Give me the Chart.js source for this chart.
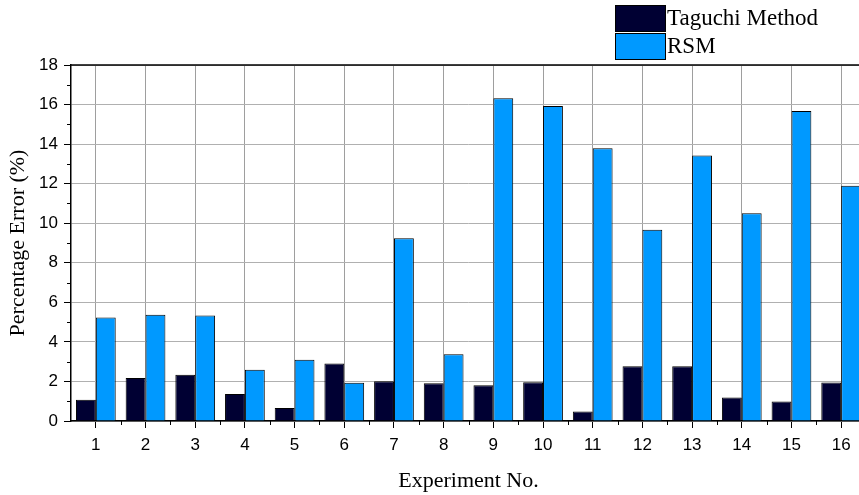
<!DOCTYPE html>
<html>
<head>
<meta charset="utf-8">
<script src="https://cdn.jsdelivr.net/npm/chart.js@4.4.0/dist/chart.umd.min.js"></script>
<style>
  html, body { margin: 0; padding: 0; background: #fff; overflow: hidden; }
  #wrap { width: 859px; height: 495px; overflow: hidden; }
  canvas { display: block; }
</style>
</head>
<body>
<div id="wrap"><canvas id="c" width="868" height="495" style="width:868px;height:495px"></canvas></div>
<script>
// Percentage error of the predicted response per experiment run
const experiments = ['1','2','3','4','5','6','7','8','9','10','11','12','13','14','15','16'];
const taguchiError = [1.08, 2.18, 2.34, 1.37, 0.66, 2.91, 2.01, 1.91, 1.81, 1.96, 0.48, 2.77, 2.77, 1.19, 0.98, 1.95];
const rsmError     = [5.23, 5.37, 5.34, 2.59, 3.10, 1.93, 9.24, 3.37, 16.32, 15.93, 13.79, 9.67, 13.43, 10.50, 15.67, 11.89];
const seriesNames  = ['Taguchi Method', 'RSM'];
const seriesColors = ['#000033', '#0099FF'];
const yTicks = { min: 0, max: 18, step: 2 };

const serif = "'Liberation Serif', 'Times New Roman', serif";
const sans  = "'Liberation Sans', Arial, sans-serif";

// Minor ticks (y at odd values, x between categories) plus the top frame line
const frameAndMinorTicks = {
  id: 'frameAndMinorTicks',
  afterDraw(chart) {
    const { ctx, chartArea: a, scales: { x, y } } = chart;
    ctx.save();
    ctx.strokeStyle = '#000';
    ctx.lineWidth = 1;
    ctx.beginPath();
    for (let v = yTicks.min + yTicks.step / 2; v < yTicks.max; v += yTicks.step) {
      const py = Math.round(y.getPixelForValue(v)) + 0.5;
      ctx.moveTo(a.left - 4, py);
      ctx.lineTo(a.left, py);
    }
    for (let i = 0; i < experiments.length - 1; i++) {
      const px = Math.round((x.getPixelForValue(i) + x.getPixelForValue(i + 1)) / 2) + 0.5;
      ctx.moveTo(px, a.bottom);
      ctx.lineTo(px, a.bottom + 4);
    }
    ctx.stroke();
    ctx.lineWidth = 1.5;
    ctx.beginPath();
    ctx.moveTo(a.left, a.top);
    ctx.lineTo(a.right, a.top);
    ctx.stroke();
    ctx.restore();
  }
};

// Stacked legend in the upper right corner
const boxLegend = {
  id: 'boxLegend',
  afterDraw(chart) {
    const ctx = chart.ctx;
    ctx.save();
    ctx.font = '23px ' + serif;
    ctx.textBaseline = 'middle';
    chart.data.datasets.forEach((ds, i) => {
      const top = 5 + i * 28;
      ctx.fillStyle = ds.backgroundColor;
      ctx.fillRect(615, top, 50, 26);
      ctx.strokeStyle = '#000';
      ctx.lineWidth = 1;
      ctx.strokeRect(615.5, top + 0.5, 50, 26);
      ctx.fillStyle = '#000';
      ctx.fillText(ds.label, 667, top + 14);
    });
    ctx.restore();
  }
};

new Chart(document.getElementById('c'), {
  type: 'bar',
  data: {
    labels: experiments,
    datasets: [
      { label: seriesNames[0], data: taguchiError, backgroundColor: seriesColors[0], borderColor: '#000', borderWidth: 1 },
      { label: seriesNames[1], data: rsmError, backgroundColor: seriesColors[1], borderColor: '#000', borderWidth: 1 }
    ]
  },
  options: {
    responsive: false,
    animation: false,
    devicePixelRatio: 1,
    layout: { padding: { top: 65, right: 2, left: 0, bottom: 0 } },
    plugins: { legend: { display: false }, tooltip: { enabled: false } },
    datasets: { bar: { categoryPercentage: 0.8, barPercentage: 1.0 } },
    scales: {
      x: {
        grid: { offset: false, color: '#9e9e9e', lineWidth: 1, drawTicks: true, tickLength: 7, tickColor: '#000' },
        border: { color: '#000', width: 1.5 },
        ticks: { color: '#000', font: { family: sans, size: 17 }, padding: 7, maxRotation: 0, autoSkip: false },
        title: { display: true, text: 'Experiment No.', color: '#000', font: { family: serif, size: 22 }, padding: { top: 2, bottom: 1 } },
        afterFit(s) { s.height = 74; }
      },
      y: {
        min: yTicks.min, max: yTicks.max,
        grid: { color: '#b0b0b0', lineWidth: 1, drawTicks: true, tickLength: 7, tickColor: '#000' },
        border: { color: '#000', width: 1.5 },
        ticks: { stepSize: yTicks.step, color: '#000', font: { family: sans, size: 17 }, padding: 6 },
        title: { display: true, text: 'Percentage Error (%)', color: '#000', font: { family: serif, size: 22 }, padding: { top: 5, bottom: 0 } },
        afterFit(s) { s.width = 71; }
      }
    }
  },
  plugins: [frameAndMinorTicks, boxLegend]
});
</script>
</body>
</html>
